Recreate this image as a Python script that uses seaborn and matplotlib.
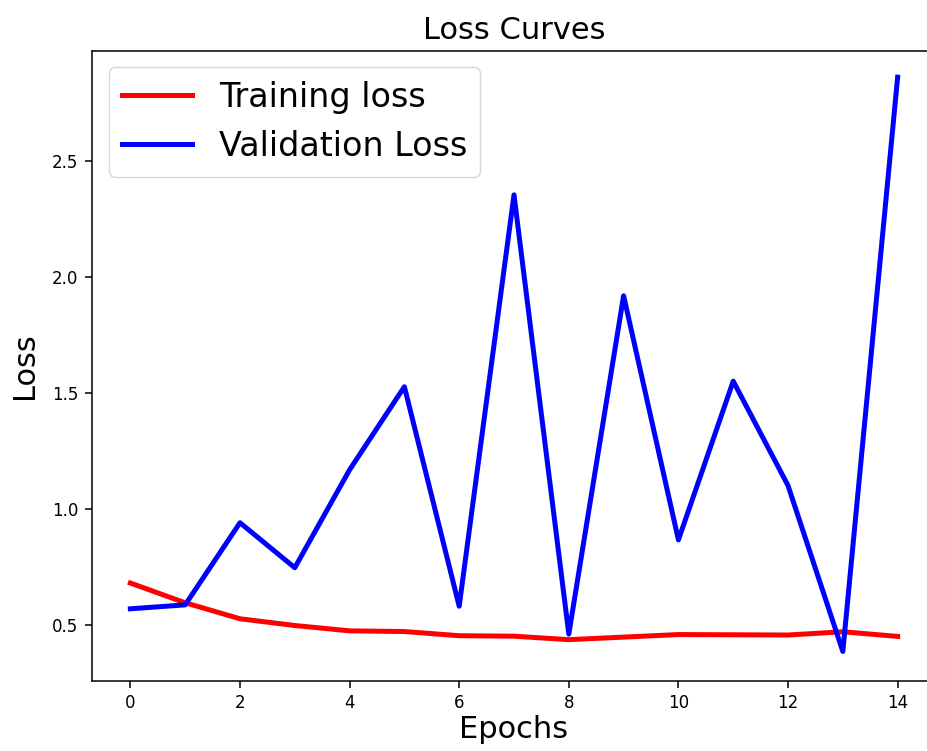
import matplotlib
matplotlib.use("Agg")
import matplotlib.pyplot as plt
import seaborn as sns
import pandas as pd

epochs = list(range(15))
training_loss = [0.68, 0.595, 0.526, 0.497, 0.474, 0.471, 0.453, 0.451, 0.436, 0.447, 0.458, 0.457, 0.456, 0.470, 0.450]
validation_loss = [0.569, 0.586, 0.94, 0.746, 1.168, 1.526, 0.58, 2.353, 0.46, 1.918, 0.866, 1.55, 1.10, 0.385, 2.86]

df = pd.DataFrame({"epoch": epochs, "train": training_loss, "val": validation_loss})

fig = plt.figure(figsize=(9.27, 7.51), dpi=100)
ax = fig.add_axes([92/927, 1-680.5/751, (936-92)/927, (680.5-50.5)/751])

sns.lineplot(data=df, x="epoch", y="train", color="red", linewidth=3.6, label="Training loss", ax=ax)
sns.lineplot(data=df, x="epoch", y="val", color="blue", linewidth=3.6, label="Validation Loss", ax=ax)

ax.set_xlim(-0.7, 14.7)
ax.set_ylim(0.26, 2.975)
ax.set_xticks(range(0, 15, 2))
ax.set_yticks([0.5, 1.0, 1.5, 2.0, 2.5])
ax.tick_params(labelsize=12, length=5, width=1.1, pad=5)
for s in ax.spines.values():
    s.set_linewidth(1.1)
ax.spines["right"].set_visible(False)
ax.set_title("Loss Curves", fontsize=22, pad=8)
ax.set_xlabel("Epochs", fontsize=22, labelpad=2)
ax.set_ylabel("Loss", fontsize=22, labelpad=9)
ax.legend(loc="upper left", fontsize=24, handlelength=2.1)

fig.savefig("out.png", dpi=100)
